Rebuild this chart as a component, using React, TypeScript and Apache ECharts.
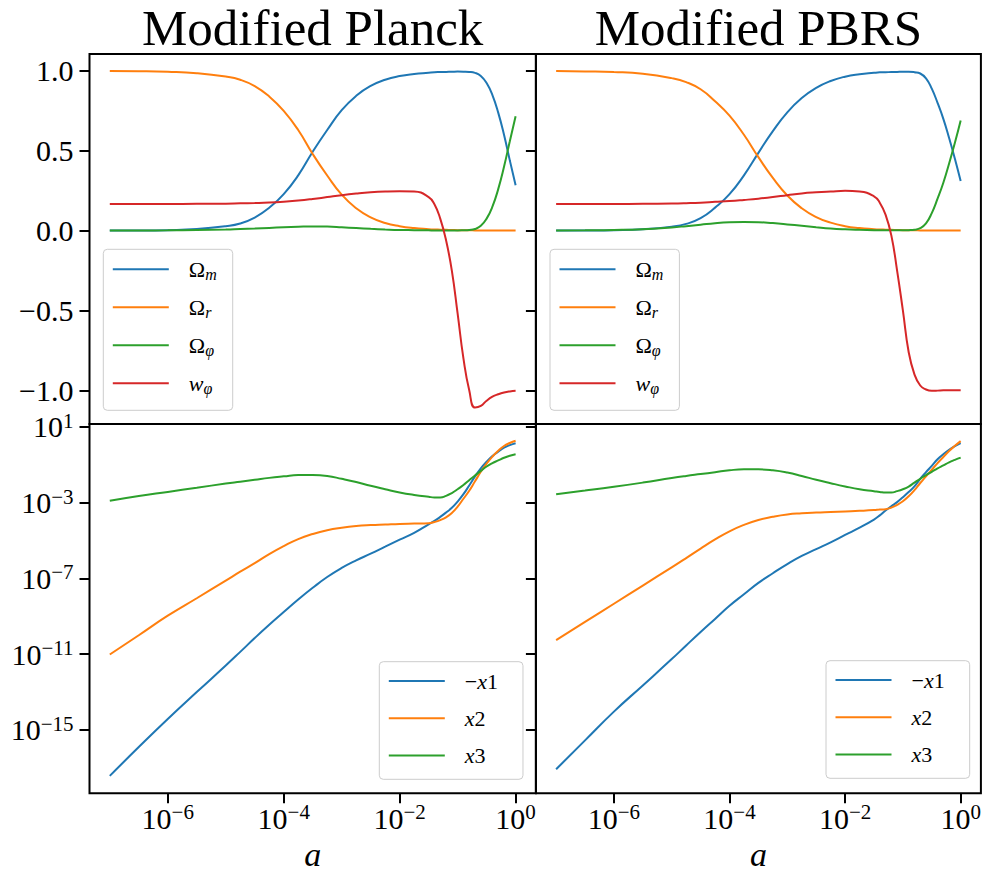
import React, { useEffect, useRef } from "react";
import * as echarts from "echarts";

// log10(a) sample grid shared by all curves
const LOG_A = [-7, -6.5, -6, -5.5, -5, -4.75, -4.5, -4.25, -4, -3.75, -3.5, -3.25, -3, -2.75, -2.5, -2.25, -2, -1.75, -1.5, -1.4, -1.3, -1.2, -1.1, -1.0, -0.9, -0.8, -0.7, -0.6, -0.5, -0.4, -0.3, -0.2, -0.1, 0];

// ---- Modified Planck, density parameters ----
const PLANCK_OMEGA_M = [0.0002, 0.0006, 0.003, 0.01, 0.028, 0.045, 0.082, 0.143, 0.229, 0.346, 0.494, 0.63, 0.754, 0.844, 0.906, 0.945, 0.968, 0.981, 0.989, 0.992, 0.993, 0.994, 0.995, 0.996, 0.9955, 0.994, 0.988, 0.969, 0.924, 0.849, 0.739, 0.6, 0.44, 0.284];
const PLANCK_OMEGA_R = [0.9995, 0.9985, 0.995, 0.986, 0.965, 0.945, 0.905, 0.84, 0.75, 0.63, 0.48, 0.345, 0.225, 0.14, 0.083, 0.048, 0.028, 0.016, 0.009, 0.007, 0.006, 0.005, 0.004, 0.003, 0.0025, 0.002, 0.0015, 0.0012, 0.001, 0.0008, 0.0006, 0.0005, 0.0004, 0.0003];
const PLANCK_OMEGA_PHI = [0.0005, 0.001, 0.002, 0.004, 0.007, 0.01, 0.013, 0.017, 0.021, 0.024, 0.026, 0.025, 0.021, 0.016, 0.011, 0.007, 0.004, 0.003, 0.002, 0.001, 0.001, 0.001, 0.001, 0.001, 0.002, 0.004, 0.01, 0.03, 0.075, 0.15, 0.26, 0.4, 0.56, 0.716];
const PLANCK_W_PHI = [0.167, 0.167, 0.167, 0.168, 0.169, 0.171, 0.173, 0.176, 0.181, 0.188, 0.198, 0.21, 0.222, 0.232, 0.24, 0.245, 0.247, 0.245, 0.21, 0.165, 0.075, -0.06, -0.25, -0.52, -0.8, -1.0, -1.108, -1.098, -1.065, -1.04, -1.025, -1.014, -1.007, -1.003];

// ---- Modified PBRS, density parameters ----
const PBRS_OMEGA_M = [0.0003, 0.001, 0.003, 0.009, 0.025, 0.042, 0.078, 0.144, 0.228, 0.346, 0.487, 0.623, 0.741, 0.83, 0.894, 0.937, 0.964, 0.979, 0.988, 0.991, 0.992, 0.993, 0.994, 0.995, 0.995, 0.992, 0.984, 0.954, 0.889, 0.8, 0.7, 0.58, 0.45, 0.31];
const PBRS_OMEGA_R = [0.999, 0.997, 0.993, 0.982, 0.955, 0.93, 0.885, 0.81, 0.72, 0.6, 0.46, 0.33, 0.22, 0.14, 0.085, 0.05, 0.028, 0.016, 0.009, 0.007, 0.006, 0.005, 0.004, 0.003, 0.0025, 0.002, 0.0015, 0.0012, 0.001, 0.0008, 0.0006, 0.0005, 0.0004, 0.0003];
const PBRS_OMEGA_PHI = [0.001, 0.002, 0.004, 0.009, 0.02, 0.028, 0.037, 0.046, 0.052, 0.054, 0.053, 0.047, 0.039, 0.03, 0.021, 0.013, 0.008, 0.005, 0.003, 0.002, 0.002, 0.002, 0.002, 0.002, 0.003, 0.006, 0.015, 0.045, 0.11, 0.2, 0.3, 0.42, 0.55, 0.69];
const PBRS_W_PHI = [0.167, 0.167, 0.167, 0.168, 0.17, 0.172, 0.175, 0.18, 0.185, 0.192, 0.2, 0.21, 0.222, 0.233, 0.24, 0.245, 0.249, 0.245, 0.215, 0.175, 0.1, -0.03, -0.25, -0.5, -0.76, -0.9, -0.97, -0.995, -1.003, -1.002, -1.0, -1.0, -1.0, -1.0];

// ---- log10 of the dynamical variables ----
const PLANCK_LOG_MINUS_X1 = [-17.42, -15.9, -14.42, -13.0, -11.6, -10.88, -10.15, -9.45, -8.78, -8.12, -7.5, -6.93, -6.45, -6.05, -5.7, -5.33, -4.96, -4.6, -4.15, -3.97, -3.76, -3.53, -3.28, -2.95, -2.56, -2.1, -1.63, -1.2, -0.85, -0.55, -0.32, -0.11, 0.03, 0.13];
const PLANCK_LOG_X2 = [-11.02, -10.0, -8.97, -8.05, -7.12, -6.65, -6.2, -5.72, -5.3, -4.93, -4.66, -4.46, -4.33, -4.24, -4.19, -4.16, -4.13, -4.11, -4.09, -4.03, -3.93, -3.78, -3.55, -3.22, -2.8, -2.38, -1.88, -1.38, -0.95, -0.58, -0.27, -0.02, 0.14, 0.26];
const PLANCK_LOG_X3 = [-2.91, -2.66, -2.44, -2.22, -2.0, -1.9, -1.8, -1.7, -1.62, -1.55, -1.55, -1.6, -1.75, -1.92, -2.12, -2.3, -2.47, -2.6, -2.7, -2.73, -2.73, -2.65, -2.5, -2.3, -2.08, -1.82, -1.57, -1.33, -1.1, -0.92, -0.78, -0.64, -0.53, -0.45];

const PBRS_LOG_MINUS_X1 = [-17.07, -15.55, -14.03, -12.65, -11.26, -10.54, -9.83, -9.14, -8.45, -7.84, -7.24, -6.73, -6.25, -5.82, -5.46, -5.1, -4.71, -4.33, -3.9, -3.68, -3.42, -3.2, -2.98, -2.72, -2.45, -2.15, -1.75, -1.4, -1.07, -0.72, -0.45, -0.22, -0.03, 0.13];
const PBRS_LOG_X2 = [-10.26, -9.3, -8.34, -7.38, -6.42, -5.93, -5.43, -4.95, -4.52, -4.18, -3.92, -3.75, -3.63, -3.57, -3.53, -3.5, -3.47, -3.44, -3.4, -3.37, -3.35, -3.27, -3.12, -2.93, -2.67, -2.35, -1.97, -1.62, -1.27, -0.92, -0.6, -0.28, -0.01, 0.24];
const PBRS_LOG_X3 = [-2.56, -2.37, -2.17, -1.95, -1.71, -1.6, -1.5, -1.4, -1.3, -1.25, -1.25, -1.3, -1.42, -1.6, -1.8, -1.98, -2.15, -2.3, -2.4, -2.44, -2.47, -2.47, -2.4, -2.3, -2.16, -1.95, -1.75, -1.55, -1.38, -1.2, -1.04, -0.88, -0.75, -0.63];

// ticks (exponents for log axes)
const X_TICKS = [-6, -4, -2, 0];
const Y_LIN_TICKS = [-1, -0.5, 0, 0.5, 1];
const Y_LOG_TICKS = [-15, -11, -7, -3, 1];

const TITLES = ["Modified Planck", "Modified PBRS"];
const TOP_NAMES = ["Ωm", "Ωr", "Ωφ", "wφ"];
const BOTTOM_NAMES = ["−x1", "x2", "x3"];
const COLORS = ["#1f77b4", "#ff7f0e", "#2ca02c", "#d62728"];

const SERIF = '"Liberation Serif", "DejaVu Serif", serif';

const COL_LEFT = [89.5, 535.9];
const COL_WIDTH = [446.4, 445];
const ROW_TOP = [54, 424];
const ROW_HEIGHT = [370, 369.3];
const X_RANGE = [-7.35, 0.35];
const Y_LIN_RANGE = [-1.211, 1.106];
const Y_LOG_RANGE = [-18.34, 1.142];

const LEGEND_RICH_TEXT: Record<string, string> = {
  "Ωm": "{o|Ω}{s|m}",
  "Ωr": "{o|Ω}{s|r}",
  "Ωφ": "{o|Ω}{s|φ}",
  "wφ": "{i|w}{s|φ}",
  "−x1": "{o|−}{i|x}{o|1}",
  "x2": "{i|x}{o|2}",
  "x3": "{i|x}{o|3}",
};

const minus = (v: number) => (v < 0 ? "−" : "") + Math.abs(v);

function buildOption() {
  const tickRich = {
    b: { fontFamily: SERIF, fontSize: 30, lineHeight: 32, color: "#000" },
    s: { fontFamily: SERIF, fontSize: 21, lineHeight: 20, padding: [0, 0, 12, 0], color: "#000" },
  };
  const tickLine = { color: "#000", width: 2 };
  const powFmt = (v: number) => `{b|10}{s|${minus(v)}}`;
  const linFmt = (v: number) => (v < 0 ? "−" : "") + Math.abs(v).toFixed(1);

  const grid: any[] = [];
  const xAxis: any[] = [];
  const yAxis: any[] = [];
  const series: any[] = [];

  const panels = [
    [PLANCK_OMEGA_M, PLANCK_OMEGA_R, PLANCK_OMEGA_PHI, PLANCK_W_PHI],
    [PBRS_OMEGA_M, PBRS_OMEGA_R, PBRS_OMEGA_PHI, PBRS_W_PHI],
    [PLANCK_LOG_MINUS_X1, PLANCK_LOG_X2, PLANCK_LOG_X3],
    [PBRS_LOG_MINUS_X1, PBRS_LOG_X2, PBRS_LOG_X3],
  ];

  for (let r = 0; r < 2; r++) {
    for (let c = 0; c < 2; c++) {
      const idx = r * 2 + c;
      const bottom = r === 1;
      const leftCol = c === 0;
      grid.push({
        left: COL_LEFT[c],
        top: ROW_TOP[r],
        width: COL_WIDTH[c],
        height: ROW_HEIGHT[r],
        show: true,
        borderColor: "#000",
        borderWidth: 2,
        backgroundColor: "transparent",
        containLabel: false,
        outerBoundsMode: "none",
      });
      xAxis.push({
        type: "value",
        gridIndex: idx,
        min: X_RANGE[0],
        max: X_RANGE[1],
        axisLine: { show: false, onZero: false },
        splitLine: { show: false },
        axisTick: { show: bottom, customValues: X_TICKS, length: 10, inside: false, lineStyle: tickLine },
        axisLabel: { show: bottom, customValues: X_TICKS, formatter: powFmt, rich: tickRich, margin: 9 },
        name: bottom ? "a" : "",
        nameLocation: "middle",
        nameGap: 44,
        nameTextStyle: { fontFamily: SERIF, fontStyle: "italic", fontSize: 34, color: "#000" },
      });
      yAxis.push({
        type: "value",
        gridIndex: idx,
        min: bottom ? Y_LOG_RANGE[0] : Y_LIN_RANGE[0],
        max: bottom ? Y_LOG_RANGE[1] : Y_LIN_RANGE[1],
        axisLine: { show: false, onZero: false },
        splitLine: { show: false },
        axisTick: {
          show: true,
          customValues: bottom ? Y_LOG_TICKS : Y_LIN_TICKS,
          length: 10,
          inside: false,
          lineStyle: tickLine,
        },
        axisLabel: {
          show: leftCol,
          customValues: bottom ? Y_LOG_TICKS : Y_LIN_TICKS,
          formatter: bottom ? powFmt : linFmt,
          rich: tickRich,
          fontFamily: SERIF,
          fontSize: 30,
          color: "#000",
          margin: 16,
        },
      });
      const names = bottom ? BOTTOM_NAMES : TOP_NAMES;
      panels[idx].forEach((vals, k) => {
        series.push({
          type: "line",
          name: names[k],
          xAxisIndex: idx,
          yAxisIndex: idx,
          data: LOG_A.map((x, i) => [x, vals[i]]),
          showSymbol: false,
          symbol: "none",
          smooth: 0.5,
          lineStyle: { color: COLORS[k], width: 2 },
          itemStyle: { color: COLORS[k] },
          z: 2 + k,
        });
      });
    }
  }

  const legendRich = {
    o: { fontFamily: SERIF, fontSize: 22, lineHeight: 26, color: "#000" },
    i: { fontFamily: SERIF, fontStyle: "italic", fontSize: 22, lineHeight: 26, color: "#000" },
    s: { fontFamily: SERIF, fontStyle: "italic", fontSize: 16, lineHeight: 16, padding: [10, 0, 0, 0], color: "#000" },
  };
  const legendBase = (left: number, top: number, data: string[], gap: number, pad: number[]) => ({
    orient: "vertical",
    left,
    top,
    data,
    selectedMode: false,
    icon: "rect",
    itemWidth: 56,
    itemHeight: 2,
    itemGap: gap,
    padding: pad,
    backgroundColor: "rgba(255,255,255,0.8)",
    borderColor: "#cccccc",
    borderWidth: 1,
    borderRadius: 4,
    formatter: (name: string) => LEGEND_RICH_TEXT[name] || name,
    textStyle: { padding: [0, 0, 0, 15], rich: legendRich, fontFamily: SERIF, fontSize: 22, color: "#000" },
  });

  const legend = [
    legendBase(103.3, 249.3, TOP_NAMES, 12, [7, 16, 14, 9.5]),
    legendBase(550, 249.3, TOP_NAMES, 12, [7, 16, 14, 9.5]),
    legendBase(379.3, 661.7, BOTTOM_NAMES, 15.3, [8.3, 25, 12.7, 9.5]),
    legendBase(826, 660.7, BOTTOM_NAMES, 15.3, [8.3, 25, 12.7, 9.5]),
  ];

  const graphic = TITLES.map((t, c) => ({
    type: "text",
    x: COL_LEFT[c] + COL_WIDTH[c] / 2,
    y: 28,
    style: {
      text: t,
      fontFamily: SERIF,
      fontSize: 51,
      fill: "#000",
      align: "center",
      verticalAlign: "middle",
    },
  }));

  return {
    animation: false,
    backgroundColor: "#fff",
    grid,
    xAxis,
    yAxis,
    series,
    legend,
    graphic,
  };
}

export default function App() {
  const ref = useRef<HTMLDivElement>(null);
  useEffect(() => {
    if (!ref.current) return;
    const chart = echarts.init(ref.current, undefined, { renderer: "svg" });
    chart.setOption(buildOption() as any);
    return () => chart.dispose();
  }, []);
  return (
    <div
      ref={ref}
      style={{ position: "absolute", left: 0, top: 0, width: 983, height: 873, background: "#fff" }}
    />
  );
}
